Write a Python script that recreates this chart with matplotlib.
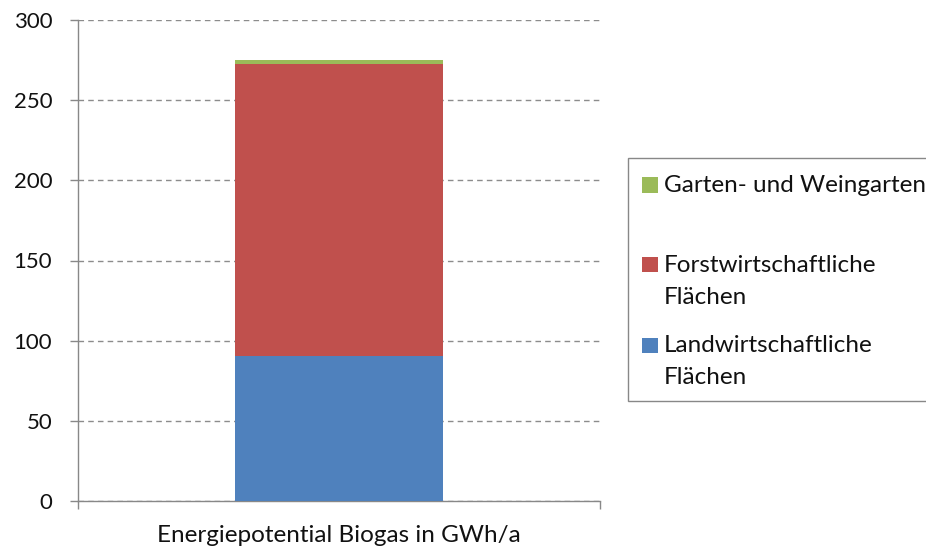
import numpy as np
import matplotlib.pyplot as plt
from matplotlib.patches import Rectangle

# Daten
kategorie = ['Energiepotential Biogas in GWh/a']
serien = ['Landwirtschaftliche\nFlächen', 'Forstwirtschaftliche\nFlächen', 'Garten- und Weingarten']
werte = [90.5, 182.0, 2.5]
farben = ['#4f81bd', '#c0504d', '#9bbb59']

plt.rcParams['font.family'] = ['Lato', 'DejaVu Sans']

W, H = 926, 549
fig = plt.figure(figsize=(W / 100, H / 100), dpi=100)
ax = fig.add_axes([78 / W, 1 - 501 / H, 522 / W, 481 / H])

x = np.arange(len(kategorie))
unten = np.zeros(len(kategorie))
for name, w, f in zip(serien, werte, farben):
    ax.bar(x, [w], bottom=unten, width=0.4, color=f, zorder=3)
    unten += w

ax.set_xlim(-0.5, 0.5)
ax.set_ylim(0, 300)
ax.set_yticks(np.arange(0, 301, 50))
ax.set_xticks(x)
ax.set_xticklabels(kategorie, fontsize=17.5)
ax.set_xticks([-0.5, 0.5], minor=True)
ax.tick_params(axis='x', which='major', length=0, pad=17, labelcolor='#111111')
ax.tick_params(axis='x', which='minor', length=6, color='#888888', width=1)
ax.tick_params(axis='y', length=6, color='#888888', width=1, labelcolor='#111111',
               labelsize=16, pad=12.5)

ax.grid(axis='y', linestyle=(0, (4, 3)), color='#8c8c8c', linewidth=1, zorder=0)
for s in ['top', 'right']:
    ax.spines[s].set_visible(False)
for s in ['left', 'bottom']:
    ax.spines[s].set_color('#888888')
    ax.spines[s].set_linewidth(1)

# Legende (von Hand, Excel-Stil, rechts abgeschnitten)
def px(xp, yp):
    return xp / W, 1 - yp / H

fig.add_artist(Rectangle(px(628, 401), 320 / W, 243 / H, transform=fig.transFigure,
                         facecolor='white', edgecolor='#888888', linewidth=1))
zeilen_y = [345, 265, 185]  # Landw., Forstw., Garten
for name, f, y0 in zip(serien, farben, zeilen_y):
    fig.add_artist(Rectangle(px(642, y0 + 7.5), 16 / W, 15 / H, transform=fig.transFigure,
                             facecolor=f, edgecolor='none'))
    for k, teil in enumerate(name.split('\n')):
        fig.text(*px(664, y0 + 32 * k), teil, fontsize=17.5, color='#111111',
                 ha='left', va='center')

fig.savefig('out.png', dpi=100)
